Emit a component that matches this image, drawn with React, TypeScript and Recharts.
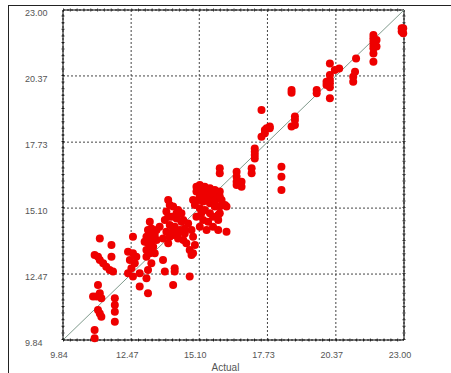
import React from 'react';
import {
  ScatterChart,
  Scatter,
  XAxis,
  YAxis,
  CartesianGrid,
  ReferenceLine,
} from 'recharts';

const majorTicks = [9.84, 12.47, 15.1, 17.73, 20.37, 23.0];
const axisDomain: [number, number] = [9.84, 23.0];
const xAxisTitle = 'Actual';

// observed values (x)
const actual = [
  22.91, 22.91, 22.97, 22.97, 21.82, 21.82, 21.94, 21.82, 21.82, 21.94, 21.82, 21.82, 21.82,
  21.15, 21.11, 21.04, 21.04, 20.5, 20.33, 20.14, 20.14, 20.14, 20.14, 20.14, 20.14, 20.01,
  20.01, 19.63, 19.63, 18.66, 18.66, 18.79, 18.79, 18.79, 18.66, 17.5, 17.82, 17.82, 17.63,
  17.63, 17.5, 17.7, 17.24, 17.24, 17.24, 17.24, 18.27, 18.27, 18.27, 17.12, 17.12, 16.54,
  16.54, 16.54, 16.54, 16.73, 16.73, 15.89, 15.89,
  15.12, 15.31, 15.51, 15.7, 15.89, 14.99, 15.18, 15.38, 15.63, 15.83, 15.96, 14.86, 15.06,
  15.25, 15.44, 15.7, 16.09, 16.15, 15.12, 15.31, 14.93, 15.51, 15.83, 14.99, 15.25, 15.44,
  15.63, 15.83, 16.15, 15.38, 15.12, 15.83, 15.89,
  14.99, 15.18, 15.38, 15.57, 15.12, 15.31, 15.51, 15.7, 15.89, 15.63, 15.18, 15.89,
  13.9, 14.09, 14.28, 14.41, 13.83, 14.02, 14.22, 14.48, 13.77, 13.96, 14.15, 14.35, 14.54,
  14.67, 14.8, 14.86, 14.93, 13.83, 14.09, 14.28, 14.48, 13.7, 13.9, 14.73, 14.86, 14.8,
  13.7, 14.15, 14.15, 13.77, 14.73, 14.09,
  13.96, 14.22, 14.41, 13.9, 14.09, 14.28, 14.54, 13.96, 14.6,
  13.19, 13.25, 13.06, 13.32, 13.45, 13.57, 13.12, 13.32, 13.45, 13.19, 13.06, 13.25, 13.12,
  13.06, 12.8, 13.12, 12.99, 13.38, 13.19, 13.06, 13.25, 13.12, 13.38, 13.19,
  12.54, 12.35, 12.54, 12.67, 12.42, 12.61, 12.35, 12.54, 12.8, 12.48,
  11.26, 11.06, 11.19, 11.26, 11.39, 11.51, 11.71, 11.71, 11.64, 11.77, 11.19, 11.26, 11.13,
  11.0, 11.32, 11.84, 11.84, 11.84, 11.19, 11.26, 11.32, 11.84, 11.06, 11.06,
];

// model output (y)
const predicted = [
  22.27, 22.14, 22.07, 22.27, 22.0, 21.87, 21.8, 21.74, 21.6, 21.54, 21.47, 21.27, 20.94,
  21.07, 20.54, 20.34, 20.14, 20.67, 20.61, 20.87, 20.41, 20.21, 20.08, 19.92, 19.48, 20.14,
  20.01, 19.81, 19.68, 19.81, 19.7, 18.75, 18.61, 18.41, 18.35, 19.01, 18.35, 18.28, 18.21,
  18.08, 17.95, 18.28, 17.48, 17.35, 17.22, 17.08, 16.75, 16.35, 15.82, 16.69, 16.49, 16.55,
  16.35, 16.15, 16.02, 16.15, 15.95, 16.69, 16.49,
  16.02, 15.95, 15.89, 15.82, 15.76, 15.76, 15.69, 15.62, 15.56, 15.69, 15.42, 15.42, 15.42,
  15.36, 15.42, 15.36, 15.22, 15.16, 15.09, 15.02, 15.22, 14.89, 14.82, 14.76, 14.63, 14.56,
  14.36, 14.23, 14.16, 14.23, 14.36, 14.63, 15.16,
  15.95, 15.89, 15.76, 15.69, 15.56, 15.49, 15.29, 15.16, 14.89, 14.76, 14.89, 15.56,
  15.42, 15.16, 15.02, 14.89, 14.96, 14.76, 14.69, 14.63, 14.63, 14.43, 14.36, 14.23, 14.09,
  14.49, 14.23, 13.96, 13.63, 14.16, 14.03, 13.89, 13.83, 13.89, 13.7, 13.43, 13.3, 13.23,
  13.03, 12.7, 12.57, 12.57, 12.37, 12.03,
  15.22, 14.89, 14.56, 14.76, 14.23, 14.09, 14.29, 13.96, 13.7,
  14.56, 14.29, 13.96, 14.09, 14.23, 14.36, 13.7, 13.56, 13.83, 13.3, 13.16, 12.9, 12.63,
  12.3, 11.97, 11.7, 13.76, 13.3, 14.09, 13.43, 13.83, 14.23, 14.03, 13.5,
  13.96, 13.36, 13.3, 13.16, 13.03, 12.9, 12.5, 12.37, 12.5, 12.7,
  13.89, 13.23, 13.16, 13.03, 12.9, 12.76, 13.63, 13.16, 12.63, 12.57, 12.03, 11.7, 11.57,
  11.57, 11.5, 11.5, 11.24, 10.97, 11.04, 10.9, 10.77, 10.57, 10.24, 9.91,
];

const points = actual.map((a, i) => ({ actual: a, predicted: predicted[i] }));

const labelFont = '"Liberation Sans", Arial, sans-serif';

const XTick = (props: any) => {
  const { x, y, payload } = props;
  return (
    <text x={x - 4} y={y + 10} textAnchor="middle" fontSize={9} fill="#555" fontFamily={labelFont}>
      {Number(payload.value).toFixed(2)}
    </text>
  );
};

const YTick = (props: any) => {
  const { y, payload } = props;
  return (
    <text x={25} y={y + 6} textAnchor="start" fontSize={9} fill="#555" fontFamily={labelFont}>
      {Number(payload.value).toFixed(2)}
    </text>
  );
};

const Dot = (props: any) => {
  const { cx, cy } = props;
  return <circle cx={cx} cy={cy} r={4} fill="#ee0000" />;
};

export default function App() {
  return (
    <div style={{ position: 'absolute', left: 0, top: 0, width: 451, height: 373, background: '#fff', overflow: 'hidden' }}>
      <div
        style={{
          position: 'absolute',
          left: 8,
          top: 5,
          width: 460,
          height: 380,
          borderTop: '1px solid #222',
          borderLeft: '1px solid #222',
        }}
      />
      <div style={{ position: 'absolute', left: 0, top: 0 }}>
        <ScatterChart width={451} height={373} margin={{ top: 10, right: 47, bottom: 0, left: 0 }}>
          <CartesianGrid stroke="#444" strokeDasharray="2 2" />
          <XAxis
            type="number"
            dataKey="actual"
            domain={axisDomain}
            ticks={majorTicks}
            tick={<XTick />}
            tickLine={false}
            axisLine={{ stroke: '#000' }}
            height={33}
            interval={0}
            label={{ value: xAxisTitle, position: 'insideBottom', offset: 2, dx: -8, fontSize: 10, fill: '#555', fontFamily: labelFont }}
          />
          <YAxis
            type="number"
            dataKey="predicted"
            domain={axisDomain}
            ticks={majorTicks}
            tick={<YTick />}
            tickLine={false}
            axisLine={{ stroke: '#000' }}
            width={63}
            interval={0}
          />
          <ReferenceLine x={23} stroke="#000" />
          <ReferenceLine y={23} stroke="#000" />
          {/* minor tick marks along the frame */}
          <ReferenceLine x={9.84} stroke="#333" strokeWidth={3} strokeDasharray="1 5.6" />
          <ReferenceLine x={23} stroke="#333" strokeWidth={3} strokeDasharray="1 5.6" />
          <ReferenceLine y={9.84} stroke="#333" strokeWidth={3} strokeDasharray="1 5.82" />
          <ReferenceLine y={23} stroke="#333" strokeWidth={3} strokeDasharray="1 5.82" />
          <ReferenceLine
            segment={[
              { x: 9.84, y: 9.84 },
              { x: 23, y: 23 },
            ]}
            stroke="#7f9a8c"
            strokeWidth={1}
          />
          <Scatter data={points} shape={<Dot />} isAnimationActive={false} />
        </ScatterChart>
      </div>
    </div>
  );
}
